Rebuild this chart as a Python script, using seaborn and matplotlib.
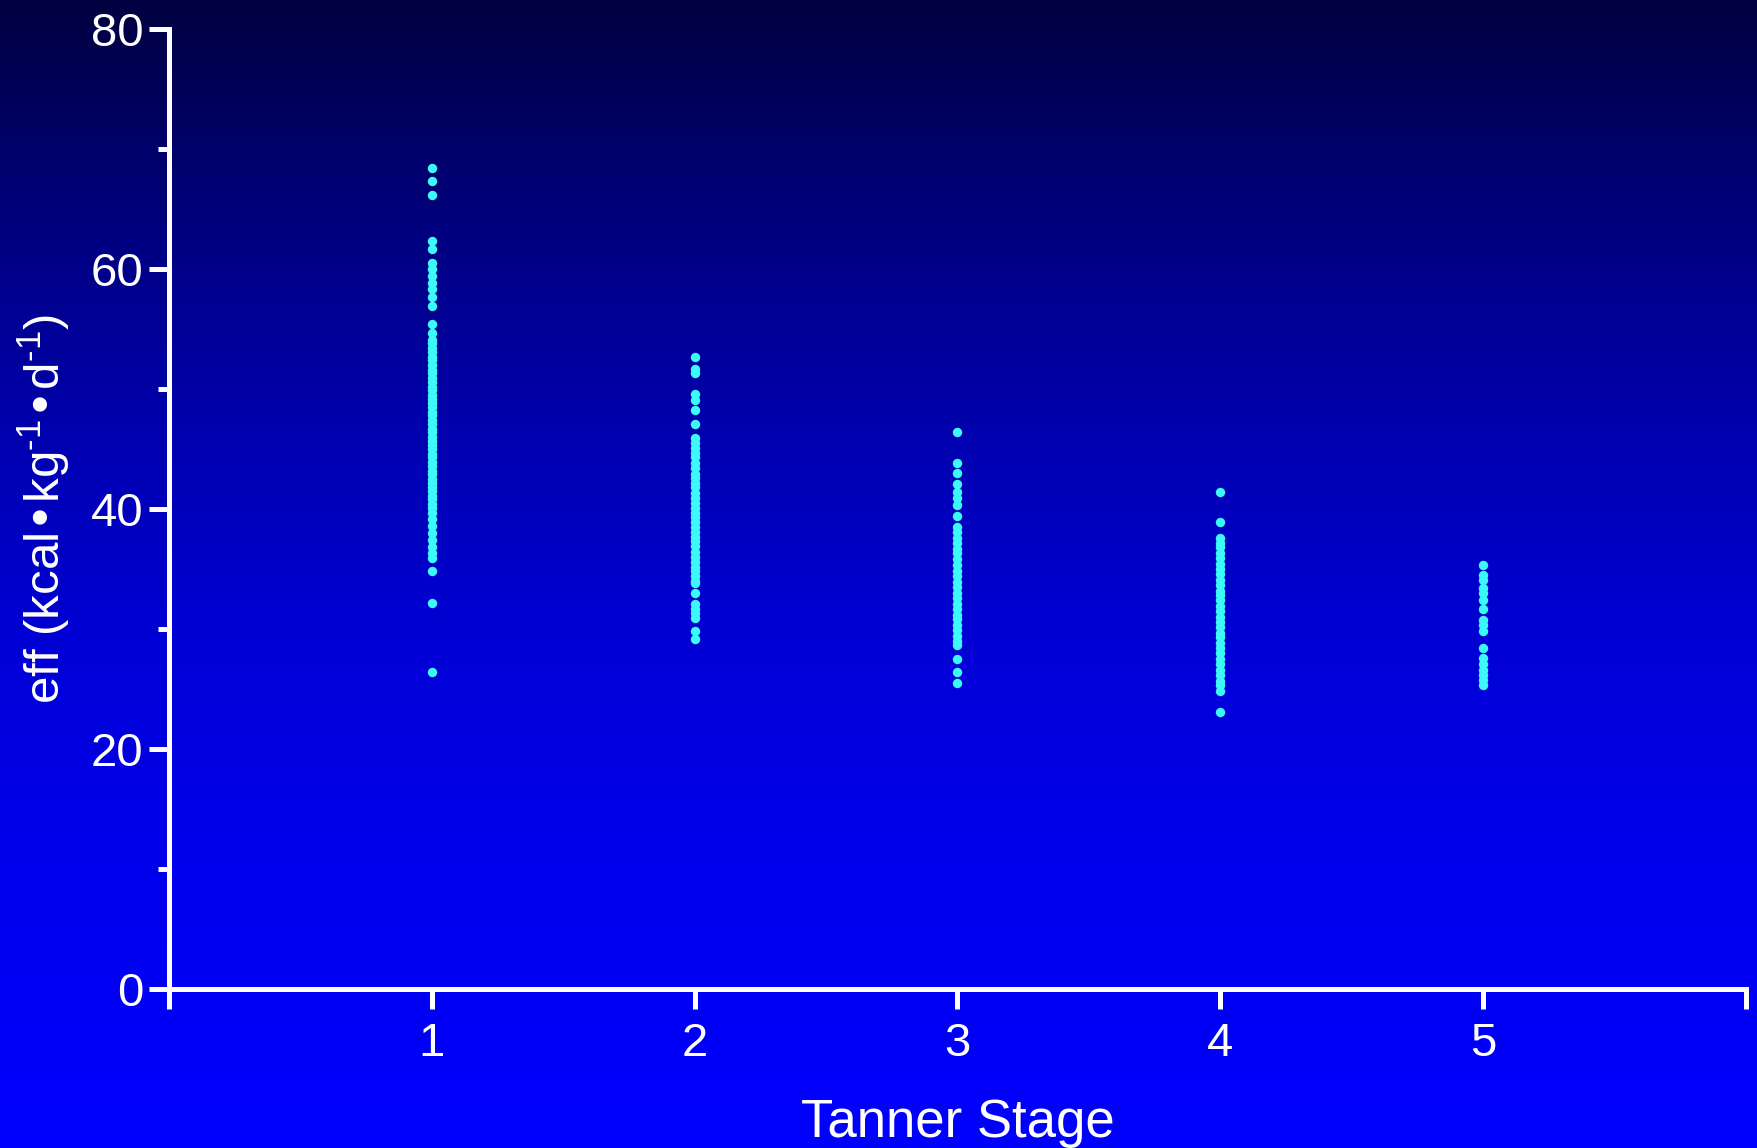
import numpy as np
import pandas as pd
import matplotlib
matplotlib.use("Agg")
import matplotlib.pyplot as plt
import seaborn as sns

# Energy expenditure per kg body mass, grouped by Tanner stage
stage1 = [68.4, 67.3, 66.2, 62.3, 61.7, 60.5, 60.0, 59.4, 58.8, 58.3, 57.7, 56.9,
          55.4, 54.7, 54.1, 53.8, 53.4, 53.1, 52.7, 52.4, 52.0, 51.6, 51.3, 50.9,
          50.6, 50.2, 49.9, 49.5, 49.2, 48.8, 48.5, 48.1, 47.8, 47.4, 47.1, 46.7,
          46.4, 46.0, 45.7, 45.3, 45.0, 44.6, 44.3, 43.9, 43.6, 43.2, 42.9, 42.5,
          42.2, 41.8, 41.5, 41.1, 40.8, 40.4, 40.1, 39.7, 39.2, 38.6, 38.0, 37.4,
          36.8, 36.3, 35.9, 34.8, 32.2, 26.4]
stage2 = [52.7, 51.7, 51.3, 49.6, 49.1, 48.25, 47.1, 45.9, 45.5, 45.1, 44.7, 44.3,
          43.8, 43.4, 42.9, 42.6, 42.2, 41.8, 41.3, 40.9, 40.5, 40.1, 39.7, 39.3,
          38.9, 38.5, 38.1, 37.7, 37.3, 36.9, 36.4, 36.0, 35.6, 35.2, 34.8, 34.4,
          34.0, 33.8, 33.0, 32.1, 31.7, 31.3, 30.9, 29.8, 29.2]
stage3 = [46.4, 43.8, 43.0, 42.1, 41.4, 40.9, 40.3, 39.4, 38.5, 38.1, 37.6, 37.2,
          36.7, 36.3, 35.8, 35.3, 34.8, 34.4, 33.9, 33.5, 33.0, 32.6, 32.1, 31.7,
          31.2, 30.8, 30.3, 29.9, 29.4, 29.0, 28.7, 27.5, 26.4, 25.5]
stage4 = [41.4, 38.9, 37.6, 37.2, 36.8, 36.3, 35.9, 35.4, 35.0, 34.6, 34.1, 33.7,
          33.2, 32.8, 32.4, 31.9, 31.5, 31.0, 30.6, 30.2, 29.7, 29.3, 28.8, 28.4,
          28.0, 27.5, 27.1, 26.6, 26.2, 25.7, 25.3, 24.8, 23.1]
stage5 = [35.3, 34.5, 34.1, 33.4, 33.0, 32.4, 31.7, 30.75, 30.3, 29.8, 28.4, 27.6,
          27.1, 26.6, 26.2, 25.75, 25.3]

stages = [1, 2, 3, 4, 5]
stage_values = [stage1, stage2, stage3, stage4, stage5]
x_ticks = [0, 1, 2, 3, 4, 5, 6]
x_tick_labels = ["", "1", "2", "3", "4", "5", ""]
y_ticks = [0, 20, 40, 60, 80]

df = pd.DataFrame({
    "stage": np.concatenate([[s] * len(v) for s, v in zip(stages, stage_values)]),
    "eff": np.concatenate(stage_values),
})

sns.set_style("ticks")
plt.rcParams["font.family"] = ["Liberation Sans", "DejaVu Sans"]
plt.rcParams["mathtext.default"] = "regular"

fig = plt.figure(figsize=(17.58, 11.48), dpi=100)

# vertical navy-to-blue background
bg = fig.add_axes([0, 0, 1, 1], zorder=0)
frac = np.linspace(0, 1, 600)
blue = np.interp(frac, [0.0, 0.2, 0.36, 0.55, 0.75, 0.9, 1.0],
                 [64, 128, 170, 212, 236, 248, 255]) / 255.0
grad = np.zeros((600, 2, 3))
grad[:, :, 2] = blue[:, None]
bg.imshow(grad, aspect="auto", extent=[0, 1, 0, 1], origin="upper")
bg.set_axis_off()

ax = fig.add_axes([0.0961, 0.1385, 0.8970, 0.8362], zorder=1)
ax.set_facecolor("none")

sns.scatterplot(data=df, x="stage", y="eff", ax=ax, color="#3CF8F8",
                s=46, linewidth=0, legend=False, clip_on=False, zorder=3)

ax.set_xlim(0, 6)
ax.set_ylim(0, 80)
ax.set_xticks(x_ticks)
ax.set_xticklabels(x_tick_labels)
ax.set_yticks(y_ticks)
ax.set_yticks([10, 30, 50, 70], minor=True)

for side in ("top", "right"):
    ax.spines[side].set_visible(False)
for side in ("left", "bottom"):
    ax.spines[side].set_color("white")
    ax.spines[side].set_linewidth(3.6)

ax.tick_params(axis="both", which="major", direction="out", length=14.5,
               width=3.6, color="white", labelcolor="white", labelsize=34)
ax.tick_params(axis="y", which="major", pad=4)
ax.tick_params(axis="x", which="major", pad=9)
ax.tick_params(axis="y", which="minor", direction="out", length=8,
               width=3.6, color="white")

ax.set_xlabel("Tanner Stage", color="white", fontsize=38)
ax.xaxis.set_label_coords(0.5, -0.114)
ax.set_ylabel("eff (kcal•kg$^{\u20101}$•d$^{\u20101}$)", color="white", fontsize=35.5)
ax.yaxis.set_label_coords(-0.061, 0.5)

fig.savefig("out.png", dpi=100)
